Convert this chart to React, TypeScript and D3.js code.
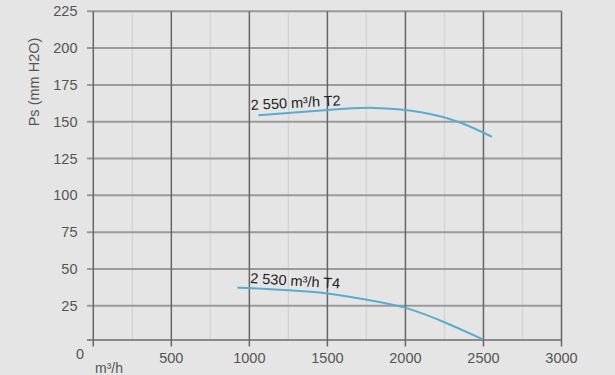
import React from "react";
import * as d3 from "d3";

const xTicks = [500, 1000, 1500, 2000, 2500, 3000];
const xMinor = [250, 750, 1250, 1750, 2250, 2750];
const yTicks = [25, 50, 75, 100, 125, 150, 175, 200, 225];

const t2Flow = [1058, 1500, 1800, 2100, 2350, 2554];
const t2Ps = [154.4, 158.0, 159.4, 156.5, 149.5, 139.8];
const t4Flow = [923, 1000, 1250, 1500, 1750, 2000, 2250, 2496];
const t4Ps = [37.5, 37.0, 35.6, 33.4, 29.2, 23.6, 13.8, 2.2];

const labelT2 = "2 550 m³/h T2";
const labelT4 = "2 530 m³/h T4";

export default function App() {
  const W = 615, H = 375;
  const x = d3.scaleLinear().domain([0, 3000]).range([93.3, 561.5]);
  const y = d3.scaleLinear().domain([0, 225]).range([342.6, 11.3]);
  const bottom = 340;
  const line = d3.line<[number, number]>().x(d => x(d[0])).y(d => y(d[1])).curve(d3.curveNatural);
  const t2 = t2Flow.map((f, i) => [f, t2Ps[i]] as [number, number]);
  const t4 = t4Flow.map((f, i) => [f, t4Ps[i]] as [number, number]);
  const font = "'Liberation Sans', Arial, sans-serif";
  return (
    <svg width={W} height={H} style={{ position: "absolute", left: 0, top: 0, display: "block" }}>
      <rect width={W} height={H} fill="#e5e5e5" />
      {xMinor.map(v => (
        <line key={"m" + v} x1={x(v)} x2={x(v)} y1={y(225)} y2={bottom} stroke="#d2d2d2" strokeWidth={1.2} />
      ))}
      {yTicks.map(v => (
        <line key={"h" + v} x1={87} x2={x(3000)} y1={y(v)} y2={y(v)} stroke="#9a9a9a" strokeWidth={2} />
      ))}
      <line x1={87} x2={x(3000)} y1={bottom} y2={bottom} stroke="#8a8a8a" strokeWidth={2} />
      {[0, ...xTicks].map(v => (
        <line key={"v" + v} x1={x(v)} x2={x(v)} y1={y(225)} y2={346.5} stroke="#666" strokeWidth={1.5} />
      ))}
      {yTicks.map(v => (
        <text key={"yl" + v} x={77.5} y={y(v)} dy="0.35em" textAnchor="end" fontSize={14.5} fill="#555" fontFamily={font}>{v}</text>
      ))}
      <text x={80} y={354} dy="0.35em" textAnchor="middle" fontSize={14.5} fill="#555" fontFamily={font}>0</text>
      {xTicks.map(v => (
        <text key={"xl" + v} x={x(v)} y={363} textAnchor="middle" fontSize={14.5} fill="#555" fontFamily={font}>{v}</text>
      ))}
      <text x={95} y={373} fontSize={14} fill="#555" fontFamily={font}>m³/h</text>
      <text transform="translate(39,82) rotate(-90)" textAnchor="middle" fontSize={14.5} fill="#555" fontFamily={font}>Ps (mm H2O)</text>
      <path d={line(t2) || ""} fill="none" stroke="#5aaccf" strokeWidth={2} />
      <path d={line(t4) || ""} fill="none" stroke="#5aaccf" strokeWidth={2} />
      <text transform="translate(251,110) rotate(-3)" fontSize={14.5} fill="#222" fontFamily={font}>{labelT2}</text>
      <text transform="translate(250,283) rotate(3.5)" fontSize={14.5} fill="#222" fontFamily={font}>{labelT4}</text>
    </svg>
  );
}
